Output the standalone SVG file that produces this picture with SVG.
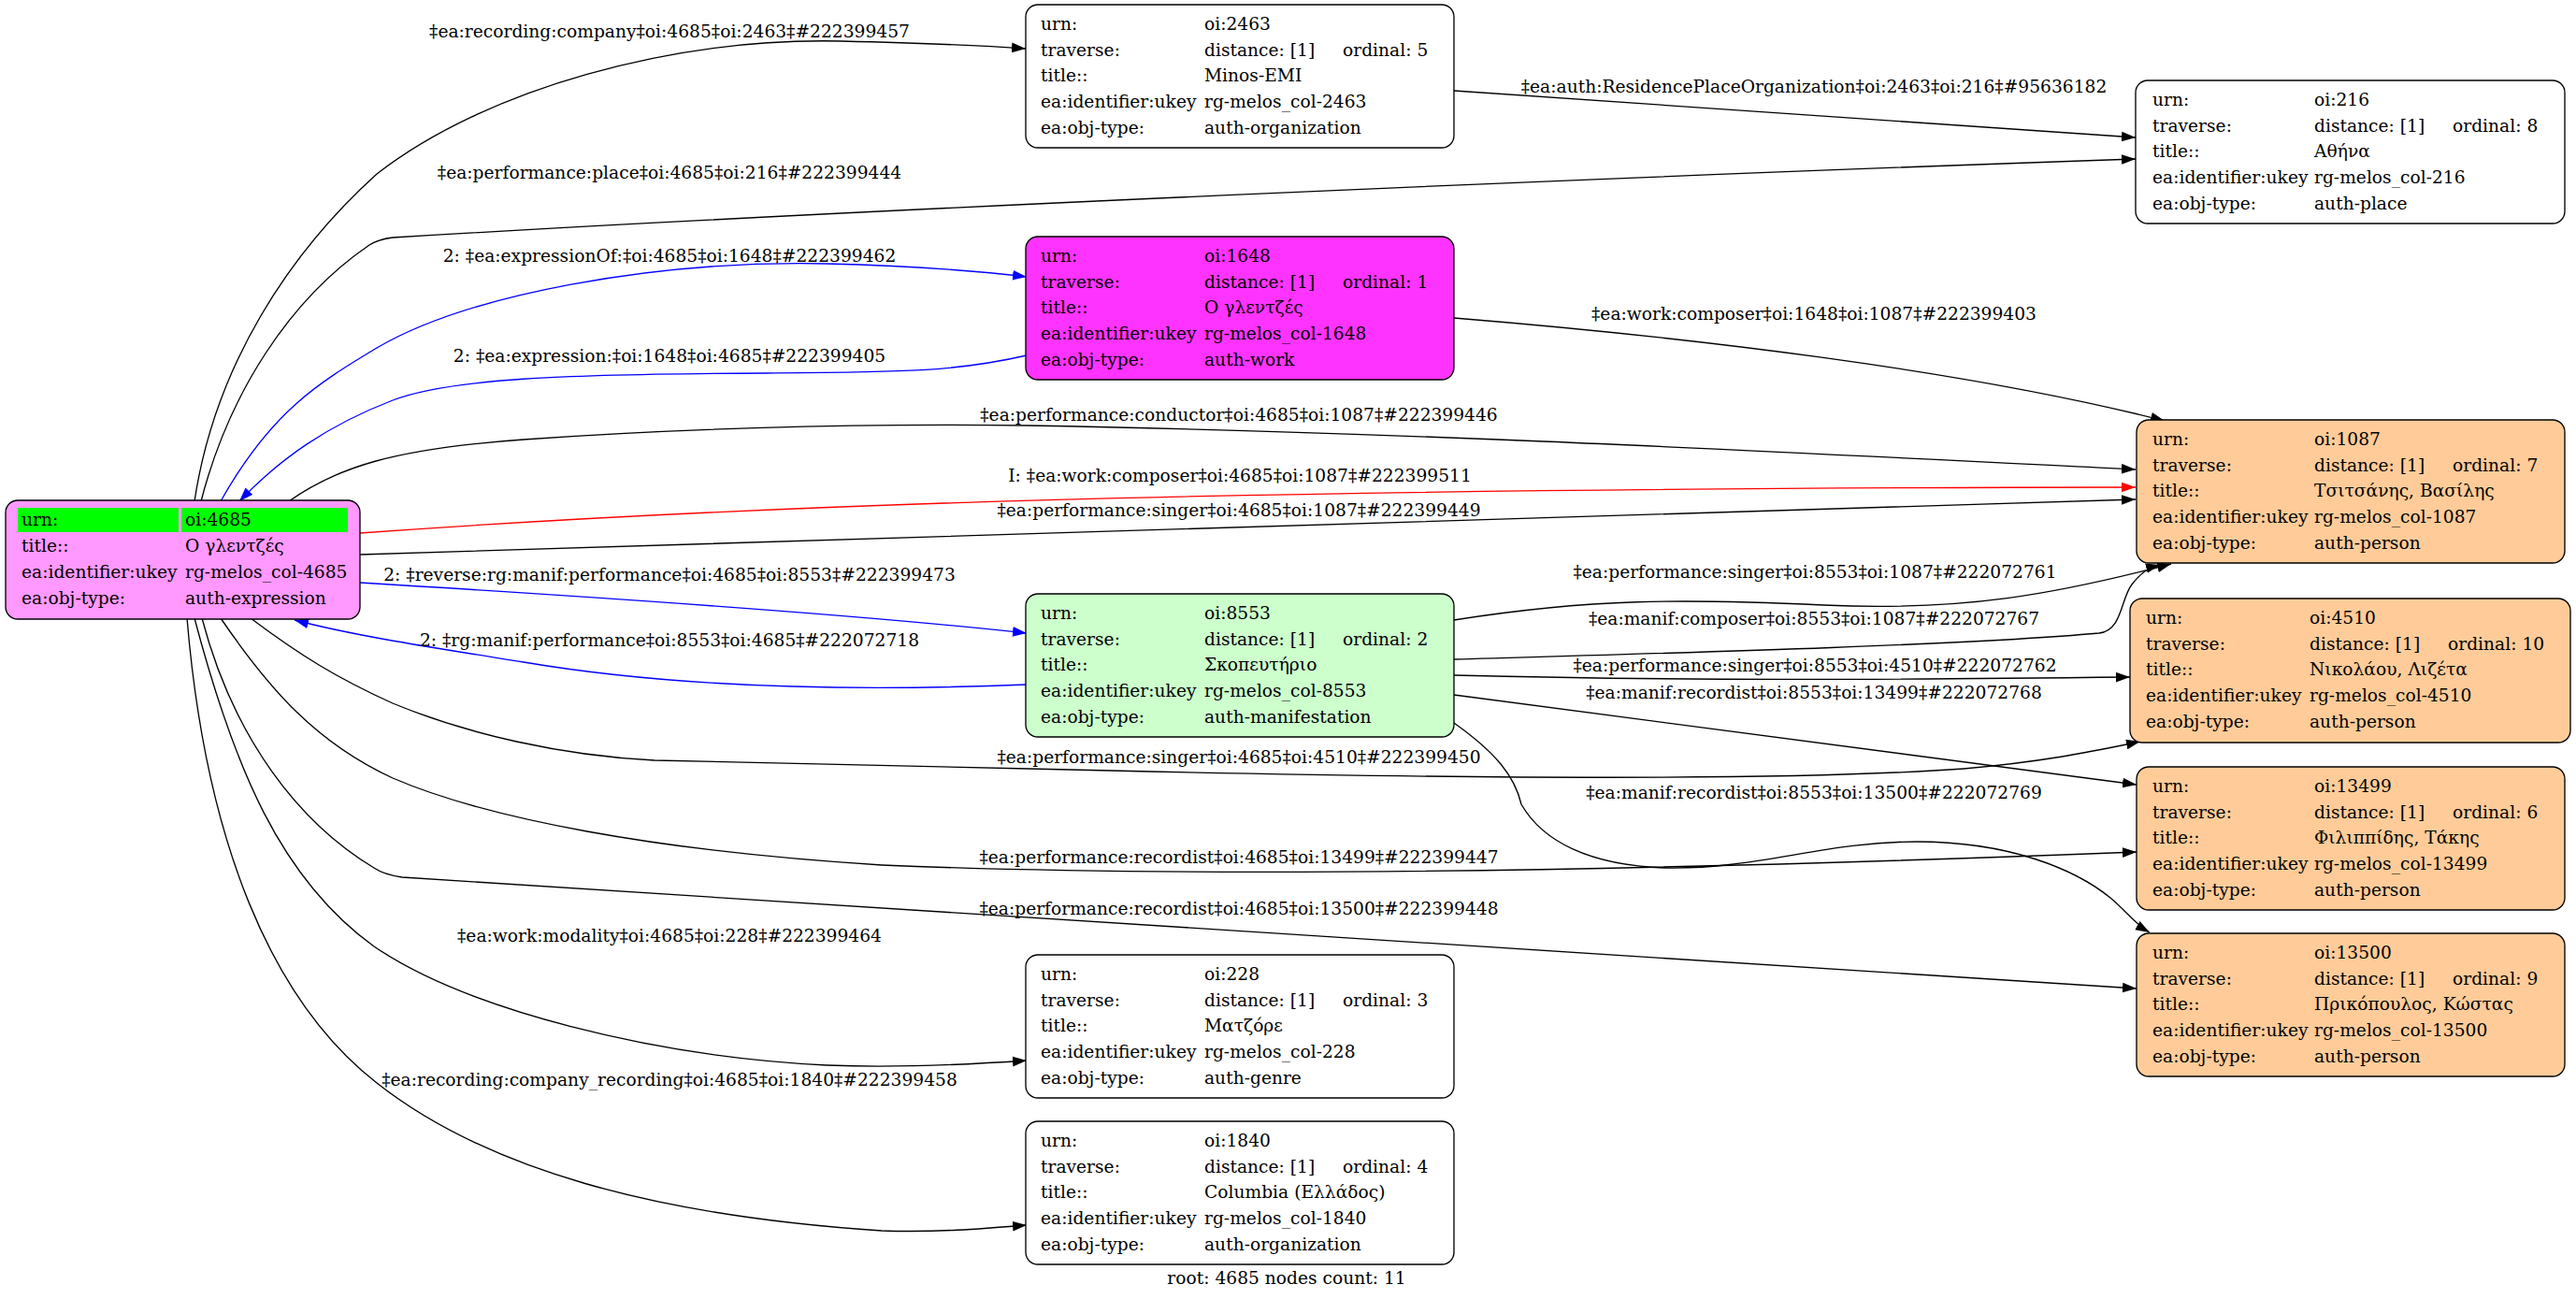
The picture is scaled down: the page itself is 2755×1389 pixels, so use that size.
<svg xmlns="http://www.w3.org/2000/svg" width="2755" height="1389" viewBox="0 0 2755 1389">
<style>
text{font-family:"DejaVu Serif","Liberation Serif",serif;font-size:18.67px;fill:#000}
.lbl{text-anchor:middle}
.box{stroke:#000;stroke-width:1.33}
.e{fill:none;stroke:#000;stroke-width:1.33}
.eb{fill:none;stroke:#0000ff;stroke-width:1.33}
.er{fill:none;stroke:#ff0000;stroke-width:1.33}
</style>
<defs>
<marker id="ak" markerUnits="userSpaceOnUse" markerWidth="15" markerHeight="11" viewBox="0 0 14 10" refX="14" refY="5" orient="auto"><path d="M0,0L14,5L0,10z" fill="#000"/></marker>
<marker id="ab" markerUnits="userSpaceOnUse" markerWidth="15" markerHeight="11" viewBox="0 0 14 10" refX="14" refY="5" orient="auto"><path d="M0,0L14,5L0,10z" fill="#0000ff"/></marker>
<marker id="ar" markerUnits="userSpaceOnUse" markerWidth="15" markerHeight="11" viewBox="0 0 14 10" refX="14" refY="5" orient="auto"><path d="M0,0L14,5L0,10z" fill="#ff0000"/></marker>
</defs>
<rect width="2755" height="1389" fill="#fff"/>

<g id="edges">
<path class="e" marker-end="url(#ak)" d="M208,536 C230,390 310,270 403,186 C520,95 720,40 900,44 C980,46 1040,48 1097,52"/>
<path class="e" marker-end="url(#ak)" d="M1555,97 L2284,147"/>
<path class="e" marker-end="url(#ak)" d="M215,536 C245,420 310,320 395,262 Q404,256 420,254 C900,225 1700,190 2284,170"/>
<path class="eb" marker-end="url(#ab)" d="M236,536 C290,440 340,410 403,372 C500,315 700,278 884,282 C960,284 1040,289 1098,296"/>
<path class="eb" marker-end="url(#ab)" d="M1098,380 C1020,398 960,398 820,399 C600,400 480,405 420,428 C350,455 300,490 256,536"/>
<path class="e" marker-end="url(#ak)" d="M1555,340 C1800,360 2100,395 2315,450"/>
<path class="e" marker-end="url(#ak)" d="M309,536 C360,500 420,480 560,470 C700,460 900,452 1100,455 C1500,462 1900,483 2284,502"/>
<path class="er" marker-end="url(#ar)" d="M385,570 C800,540 1300,522 2284,521"/>
<path class="e" marker-end="url(#ak)" d="M385,593 C900,580 1600,555 2284,534"/>
<path class="eb" marker-end="url(#ab)" d="M385,623 C600,636 900,655 1098,677"/>
<path class="eb" marker-end="url(#ab)" d="M1098,732 C900,740 720,735 560,708 C460,692 380,680 315,663"/>
<path class="e" marker-end="url(#ak)" d="M1555,663 C1700,640 1800,640 1950,647 C2100,654 2200,635 2322,603"/>
<path class="e" marker-end="url(#ak)" d="M1555,705 C1800,698 2100,690 2245,677 C2270,674 2268,640 2280,625 C2290,612 2298,607 2310,604"/>
<path class="e" marker-end="url(#ak)" d="M1555,722 C1800,728 2000,727 2278,724"/>
<path class="e" marker-end="url(#ak)" d="M1555,743 L2285,839"/>
<path class="e" marker-end="url(#ak)" d="M1555,773 C1600,805 1620,830 1627,860 C1650,900 1700,925 1780,928 C1880,930 1950,900 2050,900 C2150,900 2220,930 2257,960 C2275,975 2283,988 2299,997"/>
<path class="e" marker-end="url(#ak)" d="M268,661 C320,700 360,725 420,752 C500,785 600,808 700,813 L1100,822 C1500,832 1900,836 2100,822 C2190,814 2240,803 2289,793"/>
<path class="e" marker-end="url(#ak)" d="M236,661 C290,740 340,795 420,832 C520,875 700,910 943,925 C1300,940 1800,930 2285,911"/>
<path class="e" marker-end="url(#ak)" d="M216,661 C250,790 320,880 400,928 Q410,935 430,938 L2285,1057"/>
<path class="e" marker-end="url(#ak)" d="M208,661 C250,820 300,940 400,1012 C500,1080 700,1130 884,1139 C960,1142 1040,1138 1098,1134"/>
<path class="e" marker-end="url(#ak)" d="M200,661 C220,900 290,1070 403,1158 C520,1250 700,1300 943,1316 C1000,1318 1050,1314 1098,1310"/>

<text class="lbl" x="716" y="40">‡ea:recording:company‡oi:4685‡oi:2463‡#222399457</text>
<text class="lbl" x="1940" y="99">‡ea:auth:ResidencePlaceOrganization‡oi:2463‡oi:216‡#95636182</text>
<text class="lbl" x="716" y="191">‡ea:performance:place‡oi:4685‡oi:216‡#222399444</text>
<text class="lbl" x="716" y="280">2: ‡ea:expressionOf:‡oi:4685‡oi:1648‡#222399462</text>
<text class="lbl" x="716" y="387">2: ‡ea:expression:‡oi:1648‡oi:4685‡#222399405</text>
<text class="lbl" x="1940" y="342">‡ea:work:composer‡oi:1648‡oi:1087‡#222399403</text>
<text class="lbl" x="1325" y="450">‡ea:performance:conductor‡oi:4685‡oi:1087‡#222399446</text>
<text class="lbl" x="1326" y="515">I: ‡ea:work:composer‡oi:4685‡oi:1087‡#222399511</text>
<text class="lbl" x="1325" y="552">‡ea:performance:singer‡oi:4685‡oi:1087‡#222399449</text>
<text class="lbl" x="716" y="621">2: ‡reverse:rg:manif:performance‡oi:4685‡oi:8553‡#222399473</text>
<text class="lbl" x="716" y="691">2: ‡rg:manif:performance‡oi:8553‡oi:4685‡#222072718</text>
<text class="lbl" x="1941" y="618">‡ea:performance:singer‡oi:8553‡oi:1087‡#222072761</text>
<text class="lbl" x="1940" y="668">‡ea:manif:composer‡oi:8553‡oi:1087‡#222072767</text>
<text class="lbl" x="1941" y="718">‡ea:performance:singer‡oi:8553‡oi:4510‡#222072762</text>
<text class="lbl" x="1940" y="747">‡ea:manif:recordist‡oi:8553‡oi:13499‡#222072768</text>
<text class="lbl" x="1940" y="854">‡ea:manif:recordist‡oi:8553‡oi:13500‡#222072769</text>
<text class="lbl" x="1325" y="816">‡ea:performance:singer‡oi:4685‡oi:4510‡#222399450</text>
<text class="lbl" x="1325" y="923">‡ea:performance:recordist‡oi:4685‡oi:13499‡#222399447</text>
<text class="lbl" x="1325" y="978">‡ea:performance:recordist‡oi:4685‡oi:13500‡#222399448</text>
<text class="lbl" x="716" y="1007">‡ea:work:modality‡oi:4685‡oi:228‡#222399464</text>
<text class="lbl" x="716" y="1161">‡ea:recording:company_recording‡oi:4685‡oi:1840‡#222399458</text>
</g>

<g id="node-4685">
<rect class="box" x="6" y="535" width="379" height="127" rx="13" fill="#ff99ff"/>
<rect x="19" y="543" width="172" height="26" fill="#00ff00"/>
<rect x="194" y="543" width="178" height="26" fill="#00ff00"/>
<text x="23" y="562">urn:</text><text x="198" y="562">oi:4685</text>
<text x="23" y="590">title::</text><text x="198" y="590">Ο γλεντζές</text>
<text x="23" y="618">ea:identifier:ukey</text><text x="198" y="618">rg-melos_col-4685</text>
<text x="23" y="646">ea:obj-type:</text><text x="198" y="646">auth-expression</text>
</g>

<g id="node-2463">
<rect class="box" x="1097" y="5" width="458" height="153" rx="13" fill="#fff"/>
<text x="1113" y="32">urn:</text><text x="1288" y="32">oi:2463</text>
<text x="1113" y="60">traverse:</text><text x="1288" y="60">distance: [1]</text><text x="1436" y="60">ordinal: 5</text>
<text x="1113" y="87">title::</text><text x="1288" y="87">Minos-EMI</text>
<text x="1113" y="115">ea:identifier:ukey</text><text x="1288" y="115">rg-melos_col-2463</text>
<text x="1113" y="143">ea:obj-type:</text><text x="1288" y="143">auth-organization</text>
</g>

<g id="node-1648">
<rect class="box" x="1097" y="253" width="458" height="153" rx="13" fill="#ff33ff"/>
<text x="1113" y="280">urn:</text><text x="1288" y="280">oi:1648</text>
<text x="1113" y="308">traverse:</text><text x="1288" y="308">distance: [1]</text><text x="1436" y="308">ordinal: 1</text>
<text x="1113" y="335">title::</text><text x="1288" y="335">Ο γλεντζές</text>
<text x="1113" y="363">ea:identifier:ukey</text><text x="1288" y="363">rg-melos_col-1648</text>
<text x="1113" y="391">ea:obj-type:</text><text x="1288" y="391">auth-work</text>
</g>

<g id="node-8553">
<rect class="box" x="1097" y="635" width="458" height="153" rx="13" fill="#ccffcc"/>
<text x="1113" y="662">urn:</text><text x="1288" y="662">oi:8553</text>
<text x="1113" y="690">traverse:</text><text x="1288" y="690">distance: [1]</text><text x="1436" y="690">ordinal: 2</text>
<text x="1113" y="717">title::</text><text x="1288" y="717">Σκοπευτήριο</text>
<text x="1113" y="745">ea:identifier:ukey</text><text x="1288" y="745">rg-melos_col-8553</text>
<text x="1113" y="773">ea:obj-type:</text><text x="1288" y="773">auth-manifestation</text>
</g>

<g id="node-228">
<rect class="box" x="1097" y="1021" width="458" height="153" rx="13" fill="#fff"/>
<text x="1113" y="1048">urn:</text><text x="1288" y="1048">oi:228</text>
<text x="1113" y="1076">traverse:</text><text x="1288" y="1076">distance: [1]</text><text x="1436" y="1076">ordinal: 3</text>
<text x="1113" y="1103">title::</text><text x="1288" y="1103">Ματζόρε</text>
<text x="1113" y="1131">ea:identifier:ukey</text><text x="1288" y="1131">rg-melos_col-228</text>
<text x="1113" y="1159">ea:obj-type:</text><text x="1288" y="1159">auth-genre</text>
</g>

<g id="node-1840">
<rect class="box" x="1097" y="1199" width="458" height="153" rx="13" fill="#fff"/>
<text x="1113" y="1226">urn:</text><text x="1288" y="1226">oi:1840</text>
<text x="1113" y="1254">traverse:</text><text x="1288" y="1254">distance: [1]</text><text x="1436" y="1254">ordinal: 4</text>
<text x="1113" y="1281">title::</text><text x="1288" y="1281">Columbia (Ελλάδος)</text>
<text x="1113" y="1309">ea:identifier:ukey</text><text x="1288" y="1309">rg-melos_col-1840</text>
<text x="1113" y="1337">ea:obj-type:</text><text x="1288" y="1337">auth-organization</text>
</g>

<g id="node-216">
<rect class="box" x="2284" y="86" width="459" height="153" rx="13" fill="#fff"/>
<text x="2302" y="113">urn:</text><text x="2475" y="113">oi:216</text>
<text x="2302" y="141">traverse:</text><text x="2475" y="141">distance: [1]</text><text x="2623" y="141">ordinal: 8</text>
<text x="2302" y="168">title::</text><text x="2475" y="168">Αθήνα</text>
<text x="2302" y="196">ea:identifier:ukey</text><text x="2475" y="196">rg-melos_col-216</text>
<text x="2302" y="224">ea:obj-type:</text><text x="2475" y="224">auth-place</text>
</g>

<g id="node-1087">
<rect class="box" x="2285" y="449" width="458" height="153" rx="13" fill="#ffcc99"/>
<text x="2302" y="476">urn:</text><text x="2475" y="476">oi:1087</text>
<text x="2302" y="504">traverse:</text><text x="2475" y="504">distance: [1]</text><text x="2623" y="504">ordinal: 7</text>
<text x="2302" y="531">title::</text><text x="2475" y="531">Τσιτσάνης, Βασίλης</text>
<text x="2302" y="559">ea:identifier:ukey</text><text x="2475" y="559">rg-melos_col-1087</text>
<text x="2302" y="587">ea:obj-type:</text><text x="2475" y="587">auth-person</text>
</g>

<g id="node-4510">
<rect class="box" x="2278" y="640" width="471" height="154" rx="13" fill="#ffcc99"/>
<text x="2295" y="667">urn:</text><text x="2470" y="667">oi:4510</text>
<text x="2295" y="695">traverse:</text><text x="2470" y="695">distance: [1]</text><text x="2618" y="695">ordinal: 10</text>
<text x="2295" y="722">title::</text><text x="2470" y="722">Νικολάου, Λιζέτα</text>
<text x="2295" y="750">ea:identifier:ukey</text><text x="2470" y="750">rg-melos_col-4510</text>
<text x="2295" y="778">ea:obj-type:</text><text x="2470" y="778">auth-person</text>
</g>

<g id="node-13499">
<rect class="box" x="2285" y="820" width="458" height="153" rx="13" fill="#ffcc99"/>
<text x="2302" y="847">urn:</text><text x="2475" y="847">oi:13499</text>
<text x="2302" y="875">traverse:</text><text x="2475" y="875">distance: [1]</text><text x="2623" y="875">ordinal: 6</text>
<text x="2302" y="902">title::</text><text x="2475" y="902">Φιλιππίδης, Τάκης</text>
<text x="2302" y="930">ea:identifier:ukey</text><text x="2475" y="930">rg-melos_col-13499</text>
<text x="2302" y="958">ea:obj-type:</text><text x="2475" y="958">auth-person</text>
</g>

<g id="node-13500">
<rect class="box" x="2285" y="998" width="458" height="153" rx="13" fill="#ffcc99"/>
<text x="2302" y="1025">urn:</text><text x="2475" y="1025">oi:13500</text>
<text x="2302" y="1053">traverse:</text><text x="2475" y="1053">distance: [1]</text><text x="2623" y="1053">ordinal: 9</text>
<text x="2302" y="1080">title::</text><text x="2475" y="1080">Πρικόπουλος, Κώστας</text>
<text x="2302" y="1108">ea:identifier:ukey</text><text x="2475" y="1108">rg-melos_col-13500</text>
<text x="2302" y="1136">ea:obj-type:</text><text x="2475" y="1136">auth-person</text>
</g>

<text class="lbl" x="1376" y="1373">root: 4685 nodes count: 11</text>
</svg>
